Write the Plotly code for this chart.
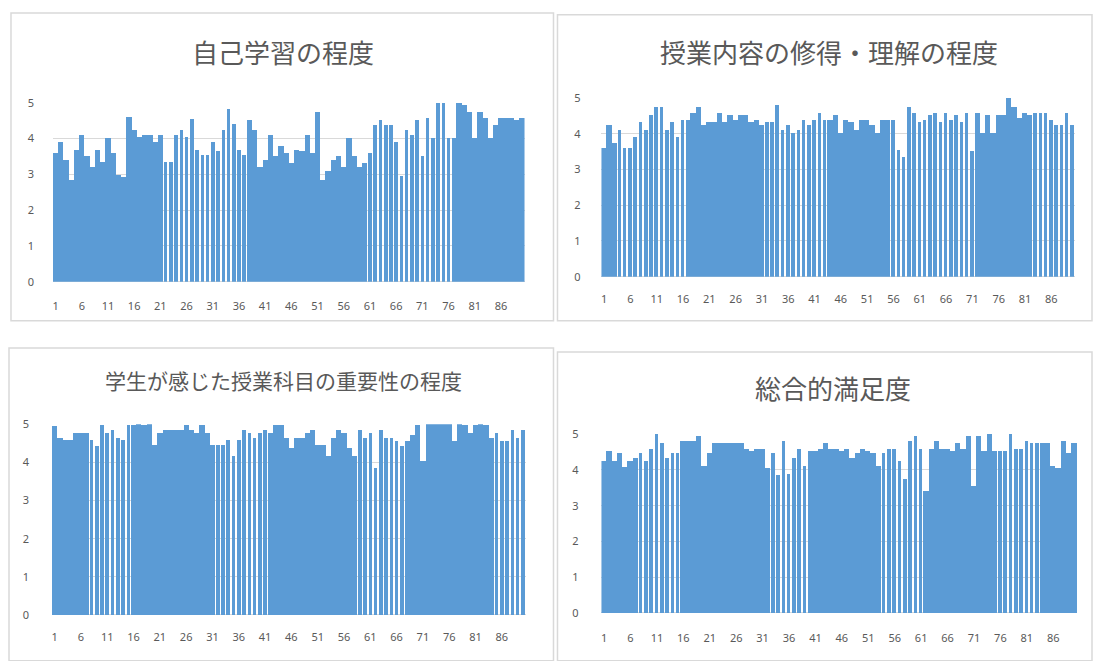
import plotly.graph_objects as go

W, H = 1094, 661

# ---- data -------------------------------------------------------------
students = list(range(1, 91))
tick_vals = list(range(1, 87, 5))          # 1, 6, 11, ... 86

self_study = [
    3.6, 3.9, 3.4, 2.85, 3.68, 4.1, 3.53, 3.2, 3.68, 3.35,
    4.02, 3.6, 2.98, 2.93, 4.6, 4.24, 4.04, 4.1, 4.1, 3.9,
    4.1, 3.35, 3.35, 4.1, 4.24, 4.04, 4.55, 3.7, 3.55, 3.55,
    3.9, 3.65, 4.24, 4.82, 4.4, 3.7, 3.55, 4.52, 4.24, 3.2,
    3.4, 4.1, 3.53, 3.8, 3.6, 3.33, 3.68, 3.65, 4.1, 3.6,
    4.74, 2.85, 3.1, 3.4, 3.53, 3.2, 4.02, 3.53, 3.2, 3.32,
    3.6, 4.38, 4.52, 4.38, 4.38, 3.9, 2.97, 4.24, 4.1, 4.52,
    3.53, 4.59, 4.02, 5.0, 5.0, 4.02, 4.02, 5.0, 4.95, 4.74,
    4.02, 4.74, 4.59, 4.02, 4.38, 4.59, 4.59, 4.59, 4.52, 4.59,
]

understanding = [
    3.6, 4.24, 3.74, 4.1, 3.6, 3.6, 3.9, 4.32, 4.1, 4.52,
    4.74, 4.74, 4.1, 4.32, 3.9, 4.38, 4.38, 4.59, 4.74, 4.24,
    4.32, 4.32, 4.59, 4.32, 4.52, 4.38, 4.52, 4.52, 4.32, 4.38,
    4.24, 4.32, 4.32, 4.8, 4.1, 4.24, 4.03, 4.1, 4.38, 4.24,
    4.38, 4.59, 4.38, 4.38, 4.52, 4.03, 4.38, 4.32, 4.1, 4.38,
    4.38, 4.24, 4.03, 4.38, 4.38, 4.38, 3.55, 3.35, 4.74, 4.59,
    4.32, 4.38, 4.52, 4.59, 4.32, 4.59, 4.38, 4.52, 4.32, 4.59,
    3.53, 4.59, 4.03, 4.52, 4.03, 4.52, 4.52, 5.0, 4.74, 4.45,
    4.59, 4.52, 4.59, 4.59, 4.59, 4.38, 4.24, 4.24, 4.59, 4.24,
]

importance = [
    4.95, 4.62, 4.57, 4.57, 4.76, 4.76, 4.76, 4.57, 4.42, 4.97,
    4.76, 4.83, 4.62, 4.57, 4.97, 4.97, 5.0, 4.97, 5.0, 4.44,
    4.76, 4.83, 4.83, 4.83, 4.83, 4.97, 4.83, 4.76, 4.97, 4.76,
    4.44, 4.44, 4.44, 4.57, 4.16, 4.57, 4.83, 4.76, 4.62, 4.76,
    4.83, 4.76, 4.97, 4.97, 4.62, 4.38, 4.62, 4.62, 4.76, 4.83,
    4.44, 4.44, 4.16, 4.62, 4.83, 4.76, 4.38, 4.16, 4.83, 4.62,
    4.76, 3.84, 4.83, 4.62, 4.62, 4.55, 4.42, 4.55, 4.7, 4.97,
    4.04, 5.0, 5.0, 5.0, 5.0, 5.0, 4.55, 5.0, 4.97, 4.76,
    4.97, 5.0, 4.97, 4.62, 4.76, 4.55, 4.55, 4.83, 4.62, 4.83,
]

satisfaction = [
    4.25, 4.52, 4.25, 4.46, 4.09, 4.25, 4.32, 4.46, 4.25, 4.59,
    5.0, 4.74, 4.32, 4.46, 4.46, 4.81, 4.81, 4.81, 4.95, 4.11,
    4.46, 4.74, 4.74, 4.74, 4.74, 4.74, 4.74, 4.59, 4.53, 4.59,
    4.59, 4.04, 4.46, 3.84, 4.81, 3.88, 4.32, 4.59, 4.11, 4.52,
    4.52, 4.59, 4.74, 4.59, 4.59, 4.53, 4.59, 4.32, 4.46, 4.59,
    4.53, 4.46, 4.11, 4.46, 4.59, 4.59, 4.25, 3.75, 4.81, 4.95,
    4.59, 3.41, 4.59, 4.81, 4.59, 4.59, 4.53, 4.74, 4.59, 4.95,
    3.55, 4.95, 4.53, 5.0, 4.53, 4.53, 4.53, 5.0, 4.59, 4.59,
    4.81, 4.74, 4.74, 4.74, 4.74, 4.11, 4.05, 4.81, 4.46, 4.74,
]

titles = [
    "自己学習の程度",
    "授業内容の修得・理解の程度",
    "学生が感じた授業科目の重要性の程度",
    "総合的満足度",
]
series = [self_study, understanding, importance, satisfaction]

# ---- styling / layout ---------------------------------------------------
BLUE = "#5b9bd5"
GRID = "#d9d9d9"
TEXT = "#595959"
TICK_FONT = dict(family="Noto Sans, Lato, sans-serif", size=11, color=TEXT)
TITLE_FAMILY = "Noto Sans CJK JP, sans-serif"

# runs of bars that render with a thin white gap between them
narrow_runs = [
    [(22, 37), (61, 77)],
    [(4, 17), (32, 43), (56, 71), (83, 90)],
    [(8, 15), (32, 41), (59, 67), (85, 90)],
    [(8, 15), (33, 40), (54, 61), (76, 83)],
]

# per panel: plot box (left, top, right, bottom) in px, frame box, title
panels = [
    dict(plot=(52, 97, 524, 280), frame=(10, 5, 553, 320),
         title_xy=(282, 44), title_size=26, ystand=18, xstand=16),
    dict(plot=(601, 92, 1075, 275), frame=(557, 7, 1092, 320),
         title_xy=(829, 44), title_size=26, ystand=20, xstand=14),
    dict(plot=(51, 426, 525, 621), frame=(8, 348, 553, 668),
         title_xy=(283, 381), title_size=21, ystand=22, xstand=14),
    dict(plot=(601, 436, 1077, 619), frame=(557, 352, 1092, 668),
         title_xy=(833, 388), title_size=26, ystand=22, xstand=17),
]


def fx(px):
    return px / W


def fy(px):
    return 1 - px / H


fig = go.Figure()
shapes = []
annotations = []
layout_axes = {}

for i, (vals, title, runs, p) in enumerate(zip(series, titles, narrow_runs, panels), start=1):
    suffix = "" if i == 1 else str(i)
    widths = [1.0] * len(students)
    for a, b in runs:
        for k in range(a, b + 1):
            widths[k - 1] = 0.68

    fig.add_trace(go.Bar(
        x=students, y=vals, width=widths,
        marker=dict(color=BLUE, line=dict(width=0)),
        xaxis="x" + suffix, yaxis="y" + suffix,
        showlegend=False, hoverinfo="x+y",
    ))

    l, t, r, b = p["plot"]
    layout_axes["xaxis" + suffix] = dict(
        domain=[fx(l), fx(r)], range=[0.5, 90.5], anchor="y" + suffix,
        tickmode="array", tickvals=tick_vals, ticktext=[str(v) for v in tick_vals],
        showgrid=False, zeroline=False, showline=False, ticks="",
        tickfont=TICK_FONT, ticklabelstandoff=p["xstand"], fixedrange=True,
    )
    layout_axes["yaxis" + suffix] = dict(
        domain=[fy(b), fy(t)], range=[0, 5], anchor="x" + suffix,
        dtick=1, tick0=0, showgrid=True, gridcolor=GRID, gridwidth=1,
        zeroline=True, zerolinecolor=GRID, zerolinewidth=1,
        showline=False, ticks="", tickfont=TICK_FONT,
        ticklabelstandoff=p["ystand"], fixedrange=True,
    )

    fl, ft, fr, fb = p["frame"]
    shapes.append(dict(
        type="rect", xref="paper", yref="paper",
        x0=fx(fl), x1=fx(fr), y0=fy(fb), y1=fy(ft),
        line=dict(color=GRID, width=1.5), fillcolor="rgba(0,0,0,0)", layer="below",
    ))

    tx, ty = p["title_xy"]
    annotations.append(dict(
        text=title, xref="paper", yref="paper", x=fx(tx), y=fy(ty),
        xanchor="center", yanchor="middle", showarrow=False,
        font=dict(family=TITLE_FAMILY, size=p["title_size"], color=TEXT),
    ))

fig.update_layout(
    width=W, height=H,
    margin=dict(l=0, r=0, t=0, b=0),
    paper_bgcolor="white", plot_bgcolor="white",
    bargap=0,
    shapes=shapes, annotations=annotations,
    **layout_axes,
)

fig.write_html("out.html", config={"displayModeBar": False})
